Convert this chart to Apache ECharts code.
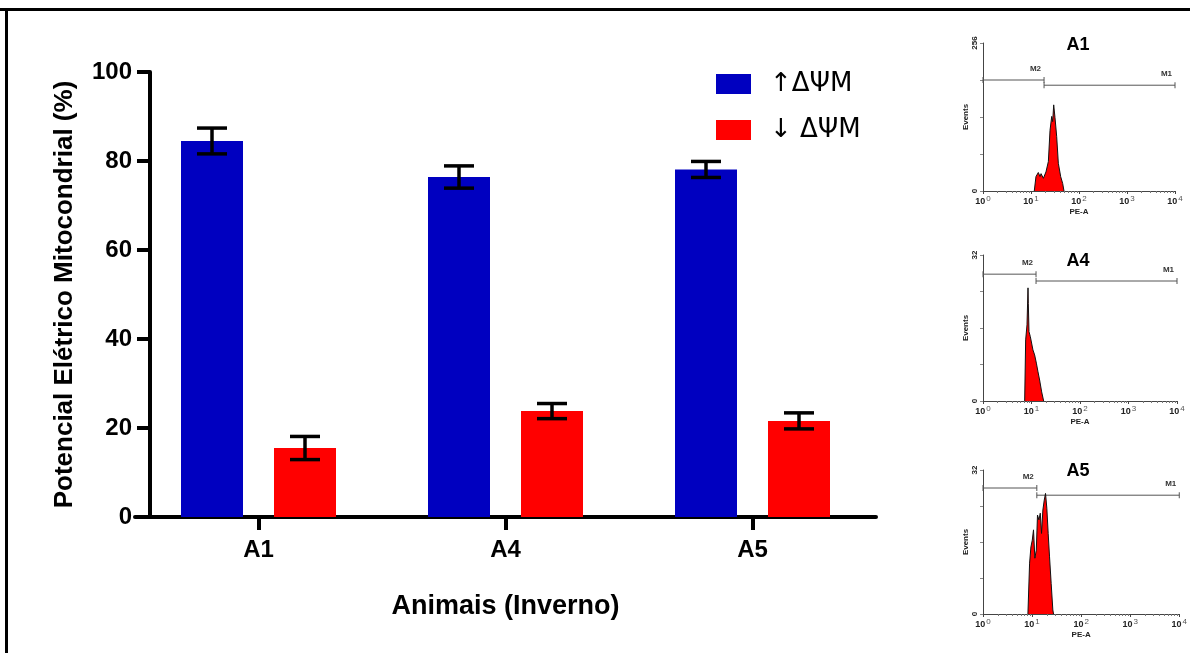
<!DOCTYPE html>
<html>
<head>
<meta charset="utf-8">
<script src="https://cdn.jsdelivr.net/npm/echarts@6/dist/echarts.min.js"></script>
<style>
html,body{margin:0;padding:0;background:#fff;}
#chart{width:1190px;height:653px;}
</style>
</head>
<body>
<div id="chart"></div>
<script>
// ---- Main bar chart data ----
const categories = ['A1', 'A4', 'A5'];
const legendNames = ['\u2191\u0394\u03A8M', '\u2193 \u0394\u03A8M'];
const upMeans = [84.5, 76.4, 78.1];
const upErrs = [2.9, 2.5, 1.8];
const downMeans = [15.5, 23.8, 21.6];
const downErrs = [2.6, 1.7, 1.8];
const yTickValues = [0, 20, 40, 60, 80, 100];

// ---- Flow-cytometry histograms [PE-A, events] ----
const histA1 = [[11.7,0],[12.7,25],[14.2,32],[15.4,25],[16.2,30],[18.1,22],[20.5,33],[23.0,51],[24.9,105],[27.0,129],[28.3,120],[29.7,149],[31.6,127],[34.3,94],[37.1,48],[41.5,25],[45.7,13],[48.7,0]];
const histA4 = [[7.23,0],[7.58,13.4],[8.08,16.7],[8.47,24.8],[8.6,21.4],[8.88,15.2],[9.46,14.1],[10.1,14.5],[10.7,11.2],[11.6,10.1],[12.6,8.3],[13.6,6.4],[14.7,4.6],[16.2,2.0],[17.8,0]];
const histA5 = [[8.23,0],[8.9,11.3],[9.47,14.9],[10.1,16.4],[10.7,18.7],[11.4,12.4],[12.2,14.2],[12.9,22.0],[13.8,20.9],[14.7,22.4],[15.6,17.9],[16.6,23.1],[17.7,25.3],[18.8,26.8],[20.0,23.5],[21.3,17.9],[22.7,12.7],[24.5,6.8],[26.5,0.9],[27.4,0]];
const histMax = [256, 32, 32];
const histTitles = ['A1', 'A4', 'A5'];
// gates: [start, end, level, name]
const gatesA1 = [[1, 18.7, 192, 'M2'], [18.7, 10000, 183, 'M1']];
const gatesA4 = [[1, 12.4, 27.8, 'M2'], [12.4, 10000, 26.3, 'M1']];
const gatesA5 = [[1, 12.5, 28.0, 'M2'], [12.5, 10000, 26.4, 'M1']];
const histData = [histA1, histA4, histA5];
const gateData = [gatesA1, gatesA4, gatesA5];
const logTicks = [1, 10, 100, 1000, 10000];

const FONT = 'Liberation Sans, Arial, sans-serif';
const BAR_W = 62, BAR_GAP = 31;
const OFF = (BAR_W + BAR_GAP) / 2;

function errRender(dx) {
  return function (params, api) {
    const i = api.value(0), m = api.value(1), e = api.value(2);
    const t = api.coord([i, m + e]);
    const b = api.coord([i, m - e]);
    const x = t[0] + dx, h = 15;
    const st = { stroke: '#000', lineWidth: 3.5 };
    return { type: 'group', children: [
      { type: 'line', shape: { x1: x, y1: t[1], x2: x, y2: b[1] }, style: st },
      { type: 'line', shape: { x1: x - h, y1: t[1], x2: x + h, y2: t[1] }, style: st },
      { type: 'line', shape: { x1: x - h, y1: b[1], x2: x + h, y2: b[1] }, style: st }
    ]};
  };
}

// small panels layout
const panels = [
  { left: 983, top: 43, width: 192, height: 148, titleY: 45 },
  { left: 983, top: 255, width: 194, height: 146, titleY: 261 },
  { left: 983, top: 470, width: 197, height: 144, titleY: 471 }
];

const grids = [{ left: 135, top: 72, width: 741, height: 445 }];
const xAxes = [{
  type: 'category', data: categories, gridIndex: 0,
  axisLine: { show: true, lineStyle: { color: '#000', width: 4 } },
  axisTick: { show: true, interval: 0, alignWithLabel: true, length: 13, lineStyle: { color: '#000', width: 4 } },
  axisLabel: { color: '#000', fontSize: 24, fontWeight: 'bold', fontFamily: FONT, margin: 21 },
  name: 'Animais (Inverno)', nameLocation: 'middle', nameGap: 76,
  nameTextStyle: { color: '#000', fontSize: 27, fontWeight: 'bold', fontFamily: FONT }
}];
const yAxes = [{
  type: 'value', gridIndex: 0, min: 0, max: 100, interval: 20, offset: -15,
  splitLine: { show: false },
  axisLine: { show: true, lineStyle: { color: '#000', width: 4 } },
  axisTick: { show: true, length: 13, lineStyle: { color: '#000', width: 4 } },
  axisLabel: { color: '#000', fontSize: 24, fontWeight: 'bold', fontFamily: FONT, margin: 18,
    formatter: v => yTickValues.includes(v) ? String(v) : '' },
  name: 'Potencial El\u00e9trico Mitocondrial (%)', nameLocation: 'middle', nameGap: 72,
  nameTextStyle: { color: '#000', fontSize: 26, fontWeight: 'bold', fontFamily: FONT }
}];

const series = [
  { name: legendNames[0], type: 'bar', xAxisIndex: 0, yAxisIndex: 0, data: upMeans,
    barWidth: BAR_W, barGap: '50%', itemStyle: { color: '#0000C0' } },
  { name: legendNames[1], type: 'bar', xAxisIndex: 0, yAxisIndex: 0, data: downMeans,
    barWidth: BAR_W, barGap: '50%', itemStyle: { color: '#FF0000' } },
  { type: 'custom', xAxisIndex: 0, yAxisIndex: 0, z: 5, renderItem: errRender(-OFF),
    data: categories.map((c, i) => [i, upMeans[i], upErrs[i]]), encode: { x: 0, y: 1 } },
  { type: 'custom', xAxisIndex: 0, yAxisIndex: 0, z: 5, renderItem: errRender(OFF),
    data: categories.map((c, i) => [i, downMeans[i], downErrs[i]]), encode: { x: 0, y: 1 } }
];

const graphics = [
  { type: 'rect', shape: { x: 0, y: 8, width: 1190, height: 3 }, style: { fill: '#000' } },
  { type: 'rect', shape: { x: 5, y: 8, width: 3, height: 645 }, style: { fill: '#000' } }
];

panels.forEach((p, k) => {
  const gi = k + 1;
  grids.push({ left: p.left, top: p.top, width: p.width, height: p.height });
  xAxes.push({
    type: 'log', logBase: 10, min: 1, max: 10000, gridIndex: gi,
    axisLine: { lineStyle: { color: '#444', width: 1 } },
    axisTick: { length: 3, lineStyle: { color: '#444' } },
    minorTick: { show: true, splitNumber: 9, length: 2, lineStyle: { color: '#777' } },
    splitLine: { show: false },
    axisLabel: { margin: 4, color: '#222', fontFamily: FONT,
      formatter: v => { const n = Math.round(Math.log10(v)); return logTicks.includes(v) ? '{b|10}{s|' + n + '}' : ''; },
      rich: { b: { fontSize: 9, fontWeight: 'bold', fontFamily: FONT, color: '#222' },
              s: { fontSize: 8, fontFamily: FONT, color: '#555', padding: [0, 0, 6, 1] } } },
    name: 'PE-A', nameLocation: 'middle', nameGap: 17,
    nameTextStyle: { fontSize: 8, fontWeight: 'bold', color: '#222', fontFamily: FONT }
  });
  yAxes.push({
    type: 'value', min: 0, max: histMax[k], interval: histMax[k] / 4, gridIndex: gi,
    splitLine: { show: false },
    axisLine: { show: true, lineStyle: { color: '#444', width: 1 } },
    axisTick: { show: true, length: 3, lineStyle: { color: '#888' } },
    axisLabel: { rotate: 90, margin: 4, fontSize: 8, fontWeight: 'bold', color: '#222', fontFamily: FONT,
      formatter: v => (v === 0 || v === histMax[k]) ? String(v) : '' },
    name: 'Events', nameLocation: 'middle', nameGap: 13,
    nameTextStyle: { fontSize: 8, fontWeight: 'bold', color: '#222', fontFamily: FONT }
  });
  series.push({
    type: 'line', xAxisIndex: gi, yAxisIndex: gi, data: histData[k], showSymbol: false, symbol: 'none',
    lineStyle: { color: '#111', width: 1 }, areaStyle: { color: '#FF0000', opacity: 1 }, z: 3
  });
  gateData[k].forEach(g => {
    series.push({
      type: 'line', xAxisIndex: gi, yAxisIndex: gi, z: 2,
      symbol: 'rect', symbolSize: [1, 6], showSymbol: true,
      itemStyle: { color: '#555' },
      lineStyle: { color: '#555', width: 1 },
      data: [[g[0], g[2]], { value: [g[1], g[2]],
        label: { show: true, formatter: g[3], position: 'top', align: 'right', offset: [-3, 1],
          fontSize: 8, fontWeight: 'bold', color: '#333', fontFamily: FONT } }]
    });
  });
  graphics.push({ type: 'text', x: p.left + 95, y: p.titleY,
    style: { text: histTitles[k], fontSize: 18, fontWeight: 'bold', fontFamily: FONT, fill: '#000',
      textAlign: 'center', textVerticalAlign: 'middle' } });
});

const chart = echarts.init(document.getElementById('chart'), null, { renderer: 'canvas' });
chart.setOption({
  backgroundColor: '#fff',
  animation: false,
  legend: {
    data: legendNames, orient: 'vertical', left: 711, top: 66, itemWidth: 35, itemHeight: 20, itemGap: 20,
    icon: 'rect', selectedMode: false,
    textStyle: { fontSize: 26, lineHeight: 20, color: '#000', fontFamily: 'DejaVu Sans, sans-serif', padding: [0, 0, 0, 14] }
  },
  grid: grids,
  xAxis: xAxes,
  yAxis: yAxes,
  series: series,
  graphic: graphics
});
</script>
</body>
</html>
